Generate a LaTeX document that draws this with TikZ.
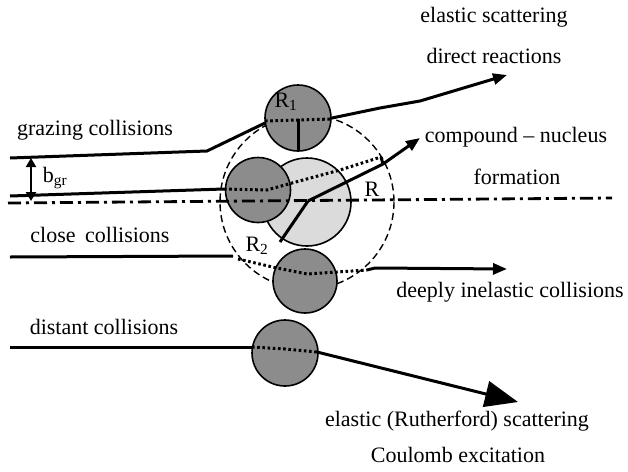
\documentclass[tikz,border=0pt]{standalone}
\usepackage{fontspec}
\setmainfont{Liberation Serif}
\usetikzlibrary{arrows.meta}
\definecolor{nucdark}{gray}{0.55}
\definecolor{nuclight}{gray}{0.86}
\tikzset{
  traj/.style={line width=3pt},
  insidepath/.style={line width=3pt, dash pattern=on 2.6pt off 2.6pt},
  heavynuc/.style={circle, draw, line width=1.6pt, fill=nucdark, inner sep=0pt},
  lightnuc/.style={circle, draw, line width=1.6pt, fill=nuclight, inner sep=0pt},
  tip/.style={-{Triangle[length=14pt,width=11pt]}}
}
\begin{document}
\begin{tikzpicture}[x=1pt,y=-1pt,font=\fontsize{22}{26}\selectfont]
			\useasboundingbox (0,0) rectangle (628,471);
			% Target and interaction radius
			\def\cx{307}
			\def\cy{202}
			\def\rint{87}

			\draw[dashed, line width=1.4pt, dash pattern=on 7pt off 4pt] (\cx,\cy) circle (\rint);
			\node[lightnuc, minimum size=88pt] (target) at (\cx,\cy) {};
			\coordinate (mid) at (308,201);

			% Projectiles
			\node[heavynuc, minimum size=66pt] (proja) at (298,118) {};
			\node[heavynuc, minimum size=65pt] (projb) at (258,190) {};
			\node[heavynuc, minimum size=64pt] (projc) at (305,281) {};
			\node[heavynuc, minimum size=66pt] (projd) at (285,353) {};

			% Beam axis
			\draw[line width=2.8pt, dash pattern=on 13pt off 5pt on 3pt off 5pt] (8,203) -- (612,198);

			% Grazing
			\draw[traj] (10,158) -- (207,151) -- (265,123);
			\draw[insidepath] (265,121) -- (332,119);
			\draw[traj, tip] (332,118) -- (380,108) -- (420,101) -- (507,75);
			\draw[traj] (298,119) -- (298,151);
			\node at (286,102) {R\textsubscript{1}};

			% Compound nucleus
			\coordinate (cnin) at (224,189);
			\coordinate (cnout) at (381,157);
			\coordinate (redge) at (383,164);
			\draw[traj] (10,196) -- (cnin);
			\draw[insidepath] (cnin) -- (267,190) -- (292,183) -- (340,170) -- (cnout);
			\draw[traj] (cnout) -- (redge);
			\draw[traj, tip] (mid) -- (redge) -- (420,138);
			\draw[traj] (mid) -- (280,242);
			\node at (372,189) {R};

			% b_gr
			\draw[line width=2.8pt, {Triangle[length=9pt,width=10pt]}-{Triangle[length=9pt,width=10pt]}] (31,158) -- (31,201);
			\node at (55,178) {b\textsubscript{gr}};

			% Close
			\draw[traj] (10,257) -- (233,256);
			\draw[insidepath] (238,259) -- (277,268) -- (307,274) -- (367,270);
			\draw[traj, tip] (367,270) -- (375,268) -- (507,269);
			\node at (257,246) {R\textsubscript{2}};

			% Distant
			\draw[traj] (10,347) -- (252,347);
			\draw[insidepath] (252,347) -- (285,349) -- (317,352);
			\draw[traj, -{Triangle[length=33pt,width=26pt]}] (317,352) -- (518,402);

			% Labels
			\node at (494,17) {elastic scattering};
			\node at (494,56) {direct reactions};
			\node at (516,137) {compound -- nucleus};
			\node at (517,177) {formation};
			\node at (95,130) {grazing collisions};
			\node at (100,235) {close\hspace{4pt} collisions};
			\node at (510,292) {deeply inelastic collisions};
			\node at (104,327) {distant collisions};
			\node at (457,421) {elastic (Rutherford) scattering};
			\node at (458,455) {Coulomb excitation};
		\end{tikzpicture}
\end{document}
